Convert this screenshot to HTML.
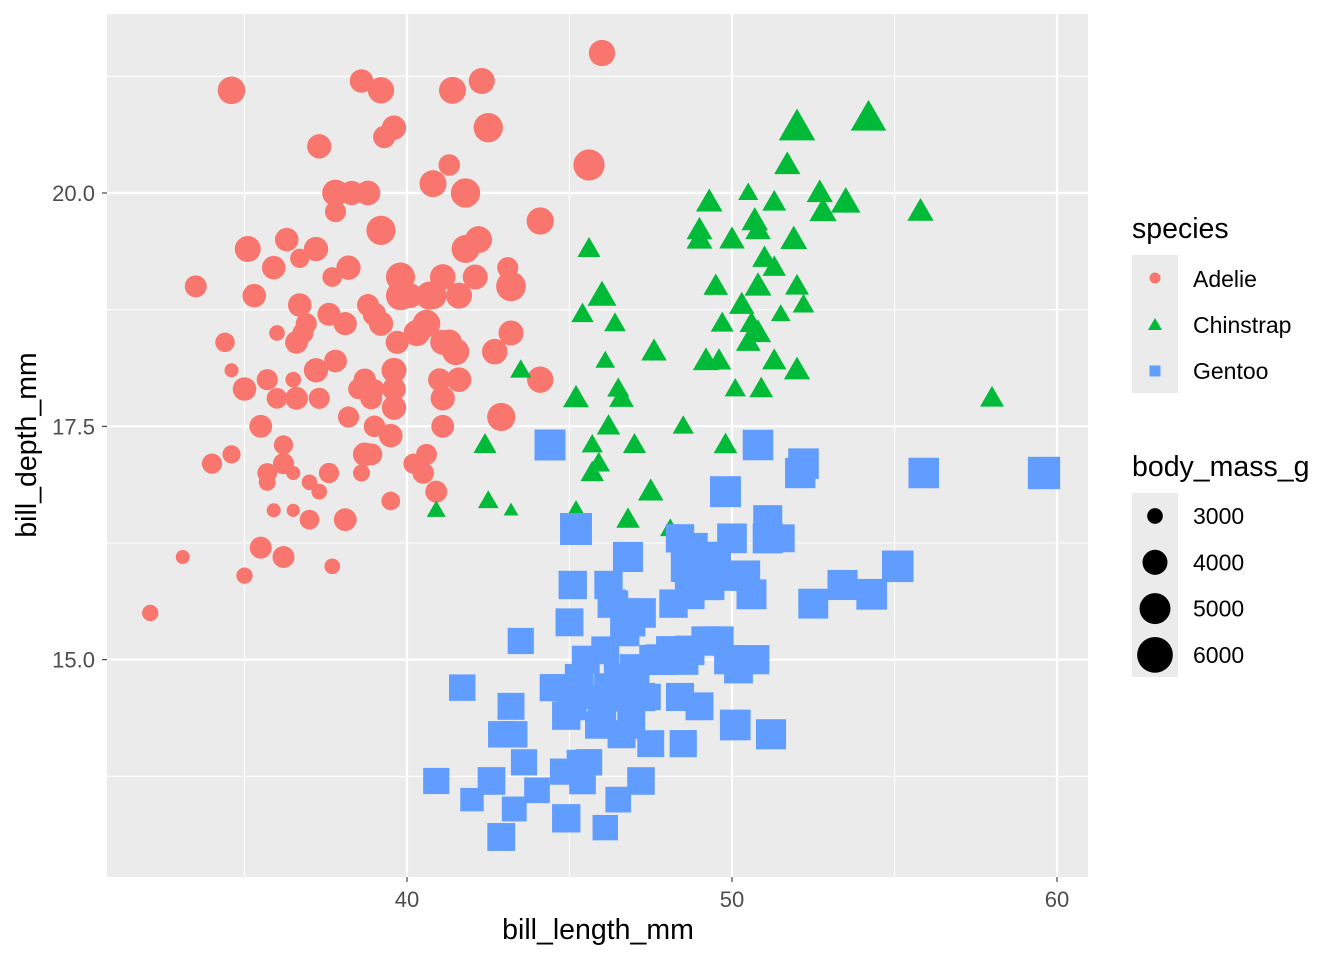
<!DOCTYPE html>
<html><head><meta charset="utf-8">
<style>
html,body{margin:0;padding:0;background:#fff;}
svg text{font-family:"Liberation Sans",Arial,sans-serif;}
</style></head>
<body>
<svg id="chart" width="1344" height="960" viewBox="0 0 1344 960" xmlns="http://www.w3.org/2000/svg">
<rect x="0" y="0" width="1344" height="960" fill="#fff"/>
<rect x="107" y="14" width="981" height="863" fill="#ebebeb"/>
<g id="grid"></g>
<g id="marks"></g>
<g id="axes"></g>
<text x="598" y="939" font-size="28.5" text-anchor="middle" fill="#000">bill_length_mm</text>
<text x="0" y="0" font-size="28.5" text-anchor="middle" fill="#000" transform="translate(36,445) rotate(-90)">bill_depth_mm</text>
<g>
<text x="1132" y="238" font-size="28.5" fill="#000">species</text>
<rect x="1132" y="255" width="46" height="138" fill="#ebebeb"/>
<circle cx="1155" cy="278" r="5.5" fill="#F8766D"/>
<polygon points="1155,318 1162,330 1148,330" fill="#00BA38"/>
<rect x="1149.5" y="365.5" width="11" height="11" fill="#619CFF"/>
<text x="1193" y="287" font-size="23" fill="#000">Adelie</text>
<text x="1193" y="333" font-size="23" fill="#000">Chinstrap</text>
<text x="1193" y="379" font-size="23" fill="#000">Gentoo</text>
</g>
<g>
<text x="1132" y="476" font-size="28.5" fill="#000">body_mass_g</text>
<rect x="1132" y="493" width="46" height="184" fill="#ebebeb"/>
<g id="sizeLegend"></g>
</g>
</svg>
<script>
// [bill_length_mm, bill_depth_mm, body_mass_g]
const adelie = [
[46.0,21.5,4200],[34.6,21.1,4400],[38.6,21.2,3800],[39.2,21.1,4200],[41.4,21.1,4300],[42.3,21.2,4150],
[42.5,20.7,4700],[37.3,20.5,3900],[39.6,20.7,3900],[39.3,20.6,3650],[41.3,20.3,3550],[45.6,20.3,5050],
[40.8,20.1,4300],[41.8,20.0,4700],[37.8,20.0,4250],[38.3,20.0,3900],[38.8,20.0,3950],[37.8,19.8,3500],
[39.2,19.6,4675],[35.1,19.4,4150],[36.3,19.5,3800],[37.2,19.4,3900],[36.7,19.3,3300],[35.9,19.2,3800],
[37.7,19.1,3350],[38.2,19.2,3900],[41.8,19.4,4450],[42.2,19.5,4300],[44.1,19.7,4350],[43.1,19.2,3500],
[42.1,19.1,4000],[39.8,19.1,4650],[41.1,19.1,4100],[43.2,19.0,4775],[33.5,19.0,3600],[35.3,18.9,3800],
[36.7,18.8,3800],[38.8,18.8,3600],[39.8,18.9,4650],[40.7,18.9,4500],[41.6,18.9,4150],[36.0,18.5,3000],
[36.9,18.6,3500],[38.1,18.6,3750],[39.2,18.6,3900],[36.6,18.4,3700],[34.4,18.4,3325],[34.6,18.1,2900],
[37.2,18.1,3900],[37.8,18.2,3700],[39.7,18.4,3750],[40.3,18.5,4200],[41.1,18.4,4000],[41.5,18.3,4300],
[42.7,18.3,4075],[43.2,18.5,4000],[35.7,18.0,3500],[36.5,18.0,3000],[35.0,17.9,3800],[36.0,17.8,3450],
[36.6,17.8,3700],[37.3,17.8,3500],[38.5,17.9,3400],[38.9,17.8,3600],[39.6,18.1,4000],[39.6,17.9,3800],
[41.6,18.0,3950],[44.1,18.0,4200],[42.9,17.6,4500],[41.1,17.8,3900],[39.6,17.7,3900],[35.5,17.5,3700],
[38.2,17.6,3500],[39.0,17.5,3550],[39.5,17.4,3800],[41.1,17.5,3700],[34.0,17.1,3400],[34.6,17.2,3200],
[36.2,17.3,3300],[35.7,17.0,3350],[36.2,17.1,3500],[36.5,17.0,2900],[35.7,16.9,3100],[37.0,16.9,3000],
[37.3,16.8,3000],[37.6,17.0,3400],[38.6,17.0,3100],[38.7,17.2,3800],[38.9,17.2,3600],[40.2,17.1,3400],
[40.6,17.2,3475],[40.5,17.0,3550],[39.5,16.7,3250],[40.9,16.8,3600],[35.9,16.6,2900],[36.5,16.6,2850],
[37.0,16.5,3350],[38.1,16.5,3700],[35.5,16.2,3600],[36.2,16.1,3600],[33.1,16.1,2900],[35.0,15.9,3050],
[37.7,16.0,3000],[32.1,15.5,3050],[40.8,18.9,4300],[39.0,18.7,3800],[40.6,18.6,4400],[41.3,18.4,4100],
[40.1,18.9,3950],[37.6,18.7,3750],[38.7,18.0,3650],[41.0,18.0,3700],[39.0,17.9,3350],[36.8,18.5,3500]
];
const chinstrap = [
[54.2,20.8,5600],[52.0,20.7,5800],[51.7,20.3,4000],[50.5,20.0,3300],[49.3,19.9,4050],[51.3,19.9,3700],
[52.7,20.0,4000],[53.5,19.9,4500],[52.8,19.8,4150],[55.8,19.8,4000],[49.0,19.6,3950],[50.0,19.5,3900],
[50.7,19.7,4050],[50.8,19.6,3900],[51.9,19.5,4100],[45.6,19.4,3600],[51.0,19.3,3800],[51.3,19.2,3650],
[49.5,19.0,3800],[50.8,19.0,4100],[52.0,19.0,3700],[46.0,18.9,4400],[45.4,18.7,3525],[50.3,18.8,3900],
[51.5,18.7,3250],[52.2,18.8,3450],[46.4,18.6,3450],[49.7,18.6,3600],[50.6,18.6,3700],[47.6,18.3,3900],
[49.2,18.2,4000],[49.6,18.2,3775],[51.3,18.2,3750],[52.0,18.1,4000],[46.1,18.2,3250],[43.5,18.1,3400],
[45.2,17.8,3950],[46.5,17.9,3500],[46.6,17.8,3800],[50.1,17.9,3400],[50.9,17.9,3675],[58.0,17.8,3700],
[46.2,17.5,3650],[48.5,17.5,3400],[49.8,17.3,3675],[47.0,17.3,3600],[42.4,17.3,3600],[45.7,17.3,3400],
[45.9,17.1,3550],[45.7,17.0,3650],[47.5,16.8,3900],[42.5,16.7,3350],[45.2,16.6,3250],[40.9,16.6,3200],
[43.2,16.6,2900],[46.8,16.5,3650],[48.1,16.4,3325],[50.5,18.4,3800],[50.8,18.5,4000],[49.0,19.5,3950]
];
const gentoo = [
[44.4,17.3,5700],[50.8,17.3,5600],[52.2,17.1,5600],[52.1,17.0,5550],[55.9,17.0,5600],[59.6,17.0,6050],
[49.8,16.8,5700],[51.1,16.5,5250],[45.2,16.4,5950],[46.8,16.1,5500],[51.1,16.3,5500],[51.5,16.3,5000],
[50.0,16.3,5400],[48.4,16.3,5100],[48.6,16.0,5800],[49.3,15.8,5550],[49.6,15.9,5300],[50.4,15.9,5550],
[50.6,15.7,5450],[45.1,15.8,5100],[46.2,15.8,5100],[55.1,16.0,5850],[53.4,15.8,5500],[54.3,15.7,5650],
[52.5,15.6,5450],[46.3,15.6,5100],[47.2,15.5,5400],[48.2,15.6,5100],[45.0,15.4,5000],[43.5,15.2,4650],
[46.1,15.1,5000],[47.6,15.0,5350],[48.7,15.1,5350],[49.6,15.2,5300],[50.7,15.0,5300],[45.5,15.0,5000],
[41.7,14.7,4700],[44.5,14.7,4850],[45.3,14.8,5200],[46.2,14.7,5200],[47.2,14.6,5100],[48.4,14.6,5050],
[49.0,14.5,5000],[44.9,14.4,5100],[45.9,14.3,4900],[46.9,14.3,5000],[47.5,14.1,4800],[43.2,14.5,4800],
[43.3,14.2,4700],[42.9,14.2,4700],[43.6,13.9,4650],[50.1,14.3,5650],[51.2,14.2,5500],[48.5,14.1,4850],
[45.6,13.9,4700],[44.8,13.8,4650],[45.4,13.7,4750],[47.2,13.7,4925],[40.9,13.7,4650],[42.6,13.7,4950],
[42.0,13.5,4150],[44.0,13.6,4550],[43.3,13.4,4400],[46.5,13.5,4550],[44.9,13.3,5100],[46.1,13.2,4500],
[42.9,13.1,5000],[48.8,16.2,5350],[49.1,15.9,5450],[49.5,16.1,5600],[50.0,15.9,5550],[48.7,15.7,5400],
[46.4,15.6,4700],[46.9,15.4,5100],[46.5,14.8,5200],[47.8,15.0,5650],[48.5,15.0,5550],[49.9,15.0,5300],
[50.2,14.9,5200],[46.0,14.5,5100],[46.8,14.6,5300],[45.1,14.5,5000],[47.0,14.9,5400],[46.7,15.3,5300],
[45.3,13.9,4450],[46.6,14.2,5000],[47.4,14.6,4725],[45.8,14.6,4200],[48.1,15.1,5100],[49.2,15.2,5300]
];
const xTicks = [40, 50, 60];
const xMinor = [35, 45, 55];
const yTicks = [15.0, 17.5, 20.0];
const yMinor = [13.75, 16.25, 18.75, 21.25];
const sizeBreaks = [3000, 4000, 5000, 6000];

const X0=107, X1=1088, Y0=14, Y1=877;
const xs = v => 407 + (v-40)*32.5;
const ys = v => 193 - (v-20)*93.33;
const massMin=2700, massMax=6300;
const diam = m => 6*(1+5*Math.sqrt(Math.max(0,(m-massMin)/(massMax-massMin))))+1;
const NS='http://www.w3.org/2000/svg';
function mk(tag, attrs, parent){const e=document.createElementNS(NS,tag);for(const k in attrs)e.setAttribute(k,attrs[k]);parent.appendChild(e);return e;}

const grid=document.getElementById('grid');
xMinor.forEach(v=>{const l=mk('line',{x1:xs(v),x2:xs(v),y1:Y0,y2:Y1,stroke:'#fff','stroke-width':1.1},grid);

});
yMinor.forEach(v=>{const l=mk('line',{x1:X0,x2:X1,y1:ys(v),y2:ys(v),stroke:'#fff','stroke-width':1.1},grid);

});
xTicks.forEach(v=>{const l=mk('line',{x1:xs(v),x2:xs(v),y1:Y0,y2:Y1,stroke:'#fff','stroke-width':2.2},grid);

});
yTicks.forEach(v=>{const l=mk('line',{x1:X0,x2:X1,y1:ys(v),y2:ys(v),stroke:'#fff','stroke-width':2.2},grid);

});

const axes=document.getElementById('axes');
xTicks.forEach(v=>{
 const t=mk('line',{x1:xs(v),x2:xs(v),y1:Y1,y2:Y1+5,stroke:'#333','stroke-width':1.1},axes);
 
 
 const tx=mk('text',{x:xs(v),y:907,'font-size':22,'text-anchor':'middle',fill:'#4d4d4d'},axes);
 tx.textContent=String(v);
 
 
});
yTicks.forEach(v=>{
 const t=mk('line',{x1:X0-5,x2:X0,y1:ys(v),y2:ys(v),stroke:'#333','stroke-width':1.1},axes);
 
 
 const tx=mk('text',{x:X0-12,y:ys(v)+8,'font-size':22,'text-anchor':'end',fill:'#4d4d4d'},axes);
 tx.textContent=v.toFixed(1);
 
 
});

const marks=document.getElementById('marks');
adelie.forEach(p=>{
 const c=mk('circle',{cx:xs(p[0]),cy:ys(p[1]),r:diam(p[2])/2,fill:'#F8766D'},marks);
 
 
});
chinstrap.forEach(p=>{
 const d=diam(p[2])*1.05, x=xs(p[0]), y=ys(p[1]), h=d*0.866;
 const t=mk('polygon',{points:`${x},${y-h*0.6} ${x+d/2},${y+h*0.4} ${x-d/2},${y+h*0.4}`,fill:'#00BA38'},marks);
 
 
});
gentoo.forEach(p=>{
 const s=diam(p[2])*0.9, x=xs(p[0]), y=ys(p[1]);
 const r=mk('rect',{x:x-s/2,y:y-s/2,width:s,height:s,fill:'#619CFF'},marks);
 
 
});

const sl=document.getElementById('sizeLegend');
sizeBreaks.forEach((m,i)=>{
 const cy=516+i*46.3;
 const c=mk('circle',{cx:1155,cy:cy,r:diam(m)/2,fill:'#000'},sl);
 
 
 const t=mk('text',{x:1193,y:cy+8,'font-size':23,fill:'#000'},sl);
 t.textContent=String(m);
 
 
});
</script>
</body></html>
